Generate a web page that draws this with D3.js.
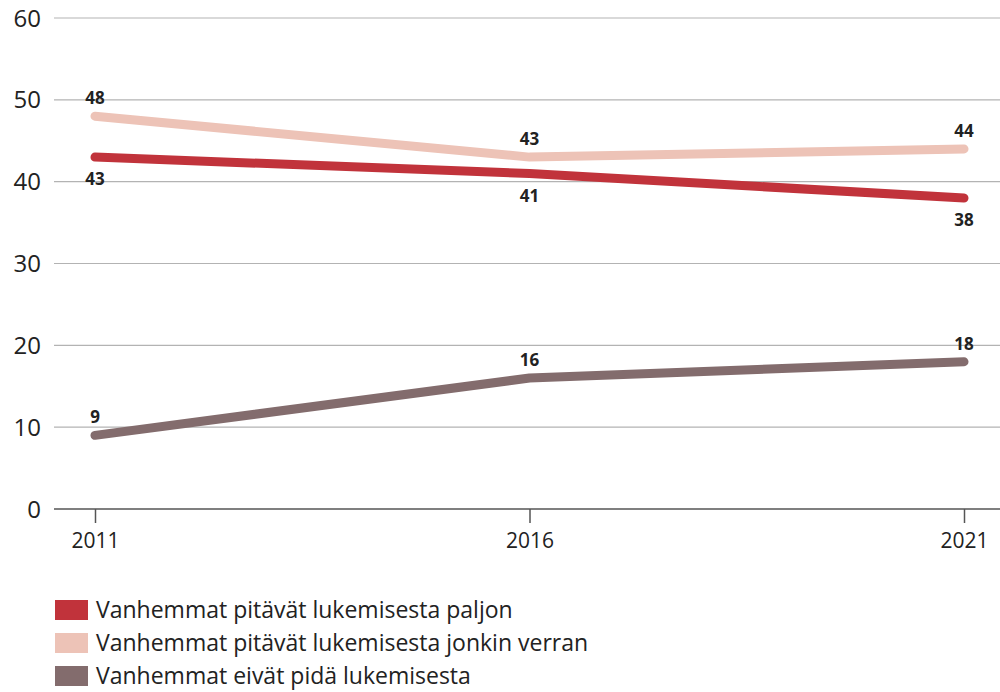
<!DOCTYPE html>
<html>
<head>
<meta charset="utf-8">
<script src="https://cdn.jsdelivr.net/npm/d3@7"></script>
<style>
  body { margin: 0; background: #fff; }
  svg { display: block; font-family: "Open Sans", "DejaVu Sans", sans-serif; }
</style>
</head>
<body>
<div id="chart"></div>
<script>
var years = [2011, 2016, 2021];
var yTicks = [0, 10, 20, 30, 40, 50, 60];
var seriesNames = [
  'Vanhemmat pitävät lukemisesta paljon',
  'Vanhemmat pitävät lukemisesta jonkin verran',
  'Vanhemmat eivät pidä lukemisesta'
];
var paljon = [43, 41, 38];
var jonkin = [48, 43, 44];
var eivat = [9, 16, 18];
// label above (-1) or below (1) the point
var paljonPos = [1, 1, 1];
var jonkinPos = [-1, -1, -1];
var eivatPos = [-1, -1, -1];
var colors = ['#c1333b', '#edc3b7', '#836c6d'];

var width = 1000, height = 692;
var margin = { top: 18, right: 0, bottom: 183, left: 54 };

var svg = d3.select('#chart').append('svg')
    .attr('width', width)
    .attr('height', height);

var xScale = d3.scalePoint().domain(years).range([95, 964]);
var yScale = d3.scaleLinear().domain([0, 60]).range([height - margin.bottom, margin.top]);

// gridlines
svg.append('g').selectAll('line').data(yTicks.filter(function (d) { return d > 0; }))
  .enter().append('line')
    .attr('x1', margin.left).attr('x2', width)
    .attr('y1', function (d) { return yScale(d); })
    .attr('y2', function (d) { return yScale(d); })
    .attr('stroke', '#b3b3b3').attr('stroke-width', 1.2);

// y labels
svg.append('g').selectAll('text').data(yTicks)
  .enter().append('text')
    .attr('x', 41)
    .attr('y', function (d) { return yScale(d); })
    .attr('dy', '0.36em')
    .attr('text-anchor', 'end')
    .style('font-size', '24px')
    .style('fill', '#222')
    .text(function (d) { return d; });

// x axis
var xAxis = d3.axisBottom(xScale).tickSize(14).tickPadding(10);
var xAxisEl = svg.append('g')
    .attr('transform', 'translate(0,' + yScale(0) + ')')
    .call(xAxis);
xAxisEl.select('.domain').remove();
xAxisEl.insert('line', ':first-child')
    .attr('x1', margin.left).attr('x2', width)
    .attr('stroke', '#555').attr('stroke-width', 1.5);
xAxisEl.selectAll('.tick line').attr('stroke', '#555').attr('stroke-width', 1.5);
xAxisEl.selectAll('.tick text')
    .style('font-size', '21px')
    .style('fill', '#222')
    .style('font-family', '"Open Sans", "DejaVu Sans", sans-serif');

var series = [
  { name: seriesNames[0], values: paljon, pos: paljonPos, color: colors[0] },
  { name: seriesNames[1], values: jonkin, pos: jonkinPos, color: colors[1] },
  { name: seriesNames[2], values: eivat, pos: eivatPos, color: colors[2] }
];

var line = d3.line()
    .x(function (d, i) { return xScale(years[i]); })
    .y(function (d) { return yScale(d); });

// draw light series first so the dark red sits on top
[1, 0, 2].forEach(function (k) {
  var s = series[k];
  svg.append('path')
      .datum(s.values)
      .attr('d', line)
      .attr('fill', 'none')
      .attr('stroke', s.color)
      .attr('stroke-width', 9)
      .attr('stroke-linecap', 'round')
      .attr('stroke-linejoin', 'round');
});

series.forEach(function (s) {
  svg.append('g').selectAll('text').data(s.values)
    .enter().append('text')
      .attr('x', function (d, i) { return xScale(years[i]); })
      .attr('y', function (d, i) { return yScale(d) + s.pos[i] * (s.pos[i] < 0 ? 18 : 22); })
      .attr('dy', '0.36em')
      .attr('text-anchor', 'middle')
      .style('font-size', '17px')
      .style('font-weight', 'bold')
      .style('fill', '#222')
      .text(function (d) { return d; });
});

// legend
var legend = svg.append('g').selectAll('g').data(series)
  .enter().append('g')
    .attr('transform', function (d, i) { return 'translate(55,' + (610 + i * 33) + ')'; });
legend.append('rect')
    .attr('x', 0).attr('y', -10)
    .attr('width', 33).attr('height', 20)
    .attr('fill', function (d) { return d.color; });
legend.append('text')
    .attr('x', 41).attr('y', 0).attr('dy', '0.36em')
    .style('font-size', '23px')
    .style('fill', '#222')
    .text(function (d) { return d.name; });
</script>
</body>
</html>
